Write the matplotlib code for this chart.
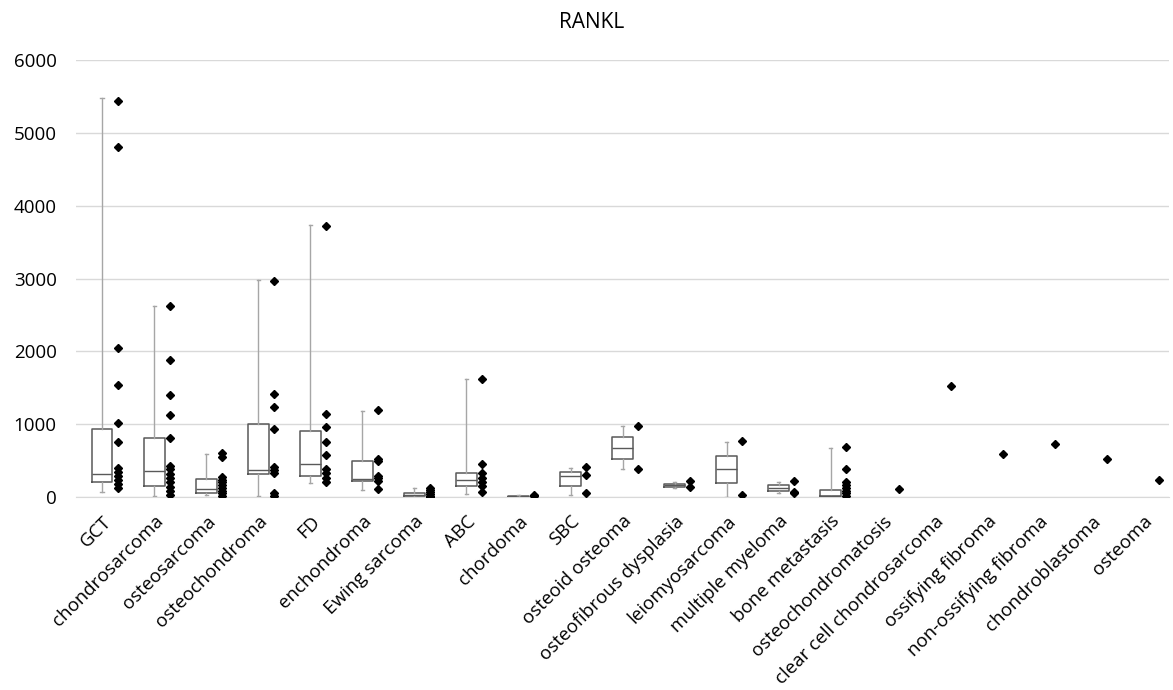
import matplotlib
matplotlib.use("Agg")
import matplotlib.pyplot as plt

plt.rcParams['font.family'] = ['Open Sans', 'DejaVu Sans']

categories = ['GCT', 'chondrosarcoma', 'osteosarcoma', 'osteochondroma', 'FD',
              'enchondroma', 'Ewing sarcoma', 'ABC', 'chordoma', 'SBC',
              'osteoid osteoma', 'osteofibrous dysplasia', 'leiomyosarcoma',
              'multiple myeloma', 'bone metastasis', 'osteochondromatosis',
              'clear cell chondrosarcoma', 'ossifying fibroma',
              'non-ossifying fibroma', 'chondroblastoma', 'osteoma']

# box summary: min, q1, median, q3, max (None where only one sample)
box_min = [73, 14, 27, 18, 188, 101, 5, 37, 0, 23, 380, 124, 5, 51, 0,
           None, None, None, None, None, None]
box_q1 = [202, 147, 51, 312, 284, 215, 10, 147, 2, 155, 522, 137, 188, 82, 10,
          None, None, None, None, None, None]
box_med = [312, 357, 110, 371, 453, 243, 25, 229, 5, 288, 673, 160, 380, 124, 12,
           None, None, None, None, None, None]
box_q3 = [930, 806, 243, 998, 902, 490, 51, 334, 10, 339, 824, 179, 568, 160, 96,
          None, None, None, None, None, None]
box_max = [5477, 2619, 591, 2976, 3741, 1181, 119, 1617, 25, 403, 971, 202, 751, 202, 673,
           None, None, None, None, None, None]

# individual samples
points = [
    [5440, 4810, 2050, 1540, 1010, 750, 400, 350, 290, 230, 180, 120],
    [2620, 1880, 1400, 1130, 815, 430, 390, 320, 260, 200, 140, 80, 30],
    [610, 550, 280, 240, 200, 160, 120, 80, 50, 20],
    [2970, 1415, 1230, 935, 415, 370, 325, 50, 20],
    [3720, 1135, 965, 750, 570, 380, 325, 265, 210],
    [1190, 520, 500, 290, 255, 220, 115],
    [130, 100, 70, 40, 20, 5],
    [1625, 455, 325, 265, 205, 145, 75],
    [30, 10],
    [415, 305, 50],
    [980, 390],
    [220, 140],
    [765, 30],
    [225, 65, 50],
    [690, 380, 200, 165, 120, 85, 50, 20],
    [105],
    [1525],
    [591],
    [732],
    [526],
    [238],
]

fig = plt.figure(figsize=(11.73, 6.9), dpi=100)
ax = fig.add_axes([0.0648, 0.2797, 0.932, 0.6333])

stats = []
pos = []
for i in range(len(categories)):
    if box_med[i] is None:
        continue
    stats.append({'whislo': box_min[i], 'q1': box_q1[i], 'med': box_med[i],
                  'q3': box_q3[i], 'whishi': box_max[i], 'fliers': []})
    pos.append(i)

ax.bxp(stats, positions=pos, widths=0.4, showfliers=False,
       boxprops=dict(color='#595959', linewidth=1.1),
       medianprops=dict(color='#595959', linewidth=1.0),
       whiskerprops=dict(color='#a6a6a6', linewidth=1.0),
       capprops=dict(color='#a6a6a6', linewidth=1.0),
       capwidths=0.06, zorder=3)

for i, vals in enumerate(points):
    ax.plot([i + 0.3] * len(vals), vals, 'D', color='black', markersize=4.2,
            linestyle='none', zorder=4)

ax.set_xlim(-0.5, len(categories) - 0.5)
ax.set_ylim(0, 6000)
ax.set_yticks(range(0, 6001, 1000))
ax.set_xticks(range(len(categories)))
ax.set_xticklabels(categories, rotation=45, ha='right', rotation_mode='anchor',
                   fontsize=13.5)
ax.tick_params(axis='y', labelsize=13.5, length=0, pad=14)
ax.tick_params(axis='x', length=0, pad=11)
ax.yaxis.grid(True, color='#d9d9d9', linewidth=1)
ax.set_axisbelow(True)
for s in ['top', 'right', 'left']:
    ax.spines[s].set_visible(False)
ax.spines['bottom'].set_color('#d9d9d9')

fig.text(0.504, 0.968, 'RANKL', ha='center', va='center', fontsize=15)

fig.savefig('out.png', dpi=100)
